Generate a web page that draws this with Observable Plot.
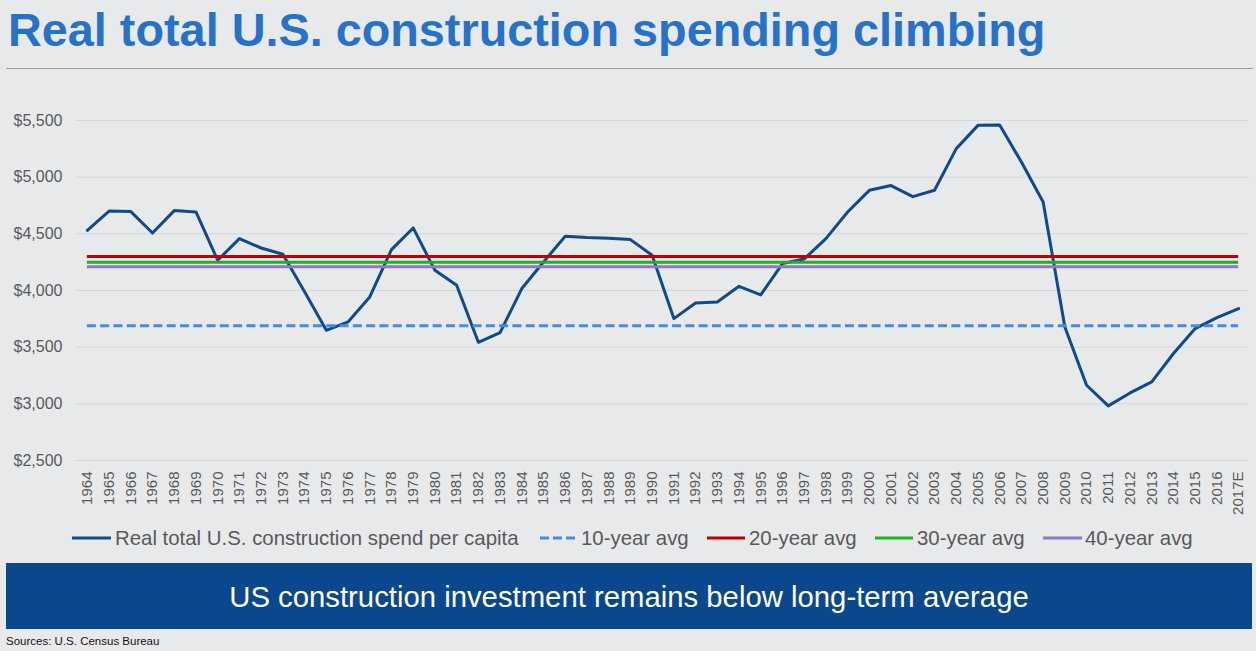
<!DOCTYPE html>
<html>
<head>
<meta charset="utf-8">
<script src="https://cdn.jsdelivr.net/npm/d3@7"></script>
<script src="https://cdn.jsdelivr.net/npm/@observablehq/plot@0.6"></script>
<style>
  html, body { margin: 0; padding: 0; }
  body { width: 1256px; height: 651px; background: #E8E9EB; position: relative; overflow: hidden;
         font-family: "Liberation Sans", Arial, sans-serif; }
  .abs { position: absolute; white-space: nowrap; }
  #title { left: 8px; top: 7px; font-size: 46.8px; line-height: 47px; font-weight: bold; color: #2672C9; }
  #rule { left: 6px; top: 68px; width: 1247px; height: 0; border-top: 1.5px solid #999; }
  #chart { left: 0; top: 80px; }
  .leg { position: absolute; top: 527.5px; font-size: 20.4px; line-height: 20px; color: #595959; white-space: nowrap; }
  .legsw { position: absolute; top: 535px; }
  #banner { left: 6px; top: 563px; width: 1246px; height: 66px; background: #0B478C; color: #fff;
            font-size: 29.3px; line-height: 29px; display: flex; align-items: center; justify-content: center; }
  #source { left: 6px; top: 636px; font-size: 11.5px; line-height: 11.5px; color: #111; }
</style>
</head>
<body>
<div id="title" class="abs">Real total U.S. construction spending climbing</div>
<div id="rule" class="abs"></div>
<div id="chart" class="abs"></div>
<div id="legend"></div>
<div id="banner" class="abs">US construction investment remains below long-term average</div>
<div id="source" class="abs">Sources: U.S. Census Bureau</div>
<script>
const years = ["1964","1965","1966","1967","1968","1969","1970","1971","1972","1973","1974","1975","1976","1977","1978","1979",
  "1980","1981","1982","1983","1984","1985","1986","1987","1988","1989","1990","1991","1992","1993","1994","1995","1996","1997",
  "1998","1999","2000","2001","2002","2003","2004","2005","2006","2007","2008","2009","2010","2011","2012","2013","2014","2015","2016","2017E"];
const spend = [4531,4701,4696,4507,4705,4693,4267,4458,4375,4320,3990,3649,3723,3943,4361,4552,
  4178,4046,3543,3629,4017,4252,4478,4467,4461,4449,4311,3752,3890,3899,4037,3961,4238,4278,
  4458,4693,4884,4926,4828,4884,5252,5457,5460,5134,4781,3678,3164,2982,3096,3193,3444,3664,3761,3841];
const seriesName = "Real total U.S. construction spend per capita";
const avgLabels = ["10-year avg","20-year avg","30-year avg","40-year avg"];
const avgValues = [3690, 4300, 4250, 4210];
const avgColors = ["#3F8CEB","#C00000","#21B024","#8C7BB8"];
const yTicks = [2500,3000,3500,4000,4500,5000,5500];
const lineColor = "#0D4A8E";

const rows = spend.map((v, i) => ({i, v}));
const avgRows = avgValues.map((v, k) => ({v, k, x1: 0, x2: years.length - 1, color: avgColors[k]}));

const chart = Plot.plot({
  width: 1256,
  height: 440,
  marginLeft: 76,
  marginRight: 7,
  marginTop: 40,
  marginBottom: 60,
  style: {background: "transparent", color: "#595959", fontFamily: "Liberation Sans, Arial, sans-serif", overflow: "visible"},
  x: {type: "linear", domain: [-0.5, years.length - 0.5]},
  y: {domain: [2500, 5500]},
  color: {type: "identity"},
  marks: [
    Plot.ruleY(yTicks, {stroke: "#D6D7D9", strokeWidth: 1}),
    Plot.axisY({ticks: yTicks, tickSize: 0, tickPadding: 14, fontSize: 16,
      tickFormat: d => "$" + d3.format(",")(d), label: null}),
    Plot.axisX({ticks: d3.range(years.length), tickSize: 0, tickPadding: 11, fontSize: 15,
      tickRotate: -90, tickFormat: i => years[i], label: null}),
    Plot.line(rows, {x: "i", y: "v", stroke: lineColor, strokeWidth: 3, strokeLinejoin: "round"}),
    Plot.ruleY(avgRows.filter(d => d.k === 0), {y: "v", x1: "x1", x2: "x2", strokeWidth: 3,
      stroke: "color", strokeDasharray: "9,4.3"}),
    Plot.ruleY(avgRows.filter(d => d.k > 0), {y: "v", x1: "x1", x2: "x2", strokeWidth: 3, stroke: "color"})
  ]
});
document.getElementById("chart").appendChild(chart);

// Legend
const legend = document.getElementById("legend");
const legItems = [{label: seriesName, color: lineColor, dash: null}]
  .concat(avgLabels.map((l, k) => ({label: l, color: avgColors[k], dash: k === 0 ? "9,4" : null})));
const swX = [72, 540, 707, 875, 1043];
const swW = [39, 36, 38, 38, 39];
const txX = [115, 581, 749, 917, 1085];
legItems.forEach((it, j) => {
  const sw = document.createElementNS("http://www.w3.org/2000/svg", "svg");
  sw.setAttribute("class", "legsw");
  sw.setAttribute("width", swW[j]);
  sw.setAttribute("height", 6);
  sw.style.left = swX[j] + "px";
  const ln = document.createElementNS("http://www.w3.org/2000/svg", "line");
  ln.setAttribute("x1", 0); ln.setAttribute("x2", swW[j]);
  ln.setAttribute("y1", 3); ln.setAttribute("y2", 3);
  ln.setAttribute("stroke", it.color); ln.setAttribute("stroke-width", 3);
  if (it.dash) ln.setAttribute("stroke-dasharray", it.dash);
  sw.appendChild(ln);
  legend.appendChild(sw);
  const t = document.createElement("div");
  t.className = "leg";
  t.style.left = txX[j] + "px";
  t.textContent = it.label;
  legend.appendChild(t);
});
</script>
</body>
</html>
